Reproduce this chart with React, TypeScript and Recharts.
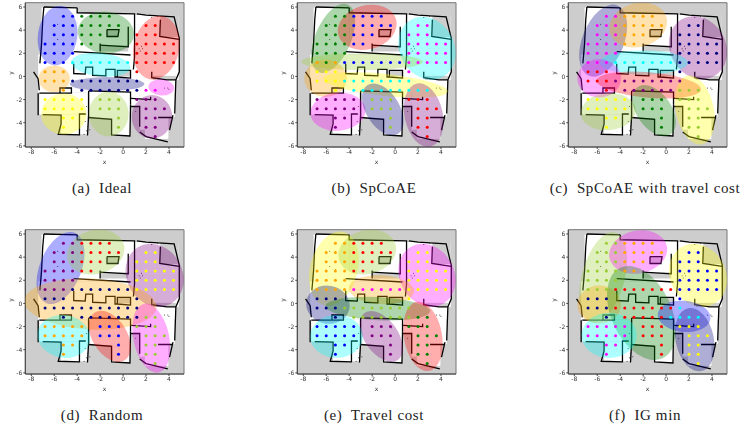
import { ReferenceArea, Scatter, ScatterChart, XAxis, YAxis } from "recharts";

const COLORS: Record<string, string> = {
  b: "#0000ff",
  g: "#008000",
  r: "#ff0000",
  c: "#00ffff",
  o: "#ffa500",
  n: "#000080",
  m: "#ff00ff",
  y: "#ffff00",
  l: "#9acd32",
  p: "#800080",
};

const X_TICKS = [-8, -6, -4, -2, 0, 2, 4];
const Y_TICKS = [-6, -4, -2, 0, 2, 4, 6];
const GRID_X = [-6.8, -6, -5.2, -4.4, -3.6, -2.8, -2, -1.2, -0.4, 0.4, 1.2, 2, 2.8, 3.6, 4.4];
const GRID_Y = [5.2, 4.4, 3.6, 2.8, 2, 1.2, 0.4, -0.4, -1.2, -2, -2.8, -3.6, -4.4, -5.2];

// cluster of each grid point, one string per GRID_Y row
const pointsA = [
  "..bbgggg.......",
  ".bbbggggg..rr..",
  ".bbbggg...rrr..",
  "bbbbgg....rrrrr",
  "bbbb......rrrrr",
  "bbbcccccccrrrrr",
  "ooo.......r....",
  "ooonnnnnnnn....",
  "..o.nnnnnnnmm..",
  "yyyyy.lll.ppp..",
  "yyyyy.lll..ppp.",
  "..yy....l..pp..",
  "..y.....l..pp..",
  "............p..",
];
const pointsB = [
  "..ggbbbb.......",
  ".gggbbbbb..mm..",
  ".gggbbb...mmm..",
  "ggggbb....mmmmm",
  "gggg......mmmmm",
  "ogobbbbbbbmmmmm",
  "yyy.......m....",
  "yyycccccccc....",
  "..y.ccccccccc..",
  "ppppp.lll.rrr..",
  "ppppp.lll..rrr.",
  "..pp....l..rr..",
  "..p.....l..rr..",
  "............r..",
];
const pointsC = [
  "..mmoooo.......",
  ".mmmooooo..nn..",
  ".mmmooo...nnn..",
  "mmmmoo....nnnnn",
  "mmmm......nnnnn",
  "mmmcccccccnnnnn",
  "rrr.......n....",
  "rrrpppppppp....",
  "..r.pppppplll..",
  "yyyyy.ggg.lll..",
  "yyyyy.ggg..lll.",
  "..yy....g..ll..",
  "..y.....g..ll..",
  "............l..",
];
const pointsD = [
  "..pprrrr.......",
  ".ppprrrrr..yy..",
  ".ppprrr...yyy..",
  "pppprr....yyyyy",
  "pppp......yyyyy",
  "pppnnnnnnnyyyyy",
  "nnn.......n....",
  "nnnnnnnnnnn....",
  "..n.nnnnnnnll..",
  "ooooo.bbb.lll..",
  "ooooo.bbb..lll.",
  "..oo....b..ll..",
  "..o.....b..ll..",
  "............l..",
];
const pointsE = [
  "..oorrrr.......",
  ".ooorrrrr..yy..",
  ".ooorrr...yyy..",
  "oooorr....yyyyy",
  "oooo......yyyyy",
  "oooommmmmmyyyyy",
  "nnn.......y....",
  "nnnllllllll....",
  "..n.lllllllgg..",
  "bbbbb.ppp.ggg..",
  "bbbbb.ppp..ggg.",
  "..bb....p..gg..",
  "..b.....p..gg..",
  "............g..",
];
const pointsF = [
  "..lloooo.......",
  ".lllooooo..bb..",
  ".lllooo...bbb..",
  "lllloo....bbbbb",
  "llll......bbbbb",
  "lllrrrrrrrbbbbb",
  "nnn.......b....",
  "nnnrrrrrrrc....",
  "..n.rrrrrcccc..",
  "mmmmm.rrr.yyy..",
  "mmmmm.rrr..yyy.",
  "..mm....r..yy..",
  "..m.....r..yy..",
  "............y..",
];

// colour, centre x, centre y, semi axes, tilt
type Gaussian = [string, number, number, number, number, number];

const ellipsesA: Gaussian[] = [
  ["b", -5.71, 3.52, 2.6, 1.7, -82],
  ["g", -1.5, 3.78, 2.45, 1.8, 5],
  ["r", 2.9, 2.48, 2.8, 1.97, -78],
  ["c", -1.94, 1.01, 2.58, 1.0, 6],
  ["o", -6, -0.2, 1.36, 1.15, 0],
  ["n", -1.39, -0.66, 3.25, 0.6, 0],
  ["m", 3.33, -0.95, 1.12, 0.7, 5],
  ["y", -5.16, -3.25, 1.97, 1.78, 0],
  ["l", -1.25, -3.25, 1.95, 1.72, 90],
  ["p", 2.52, -3.5, 1.9, 1.75, 90],
];
const ellipsesB: Gaussian[] = [
  ["g", -5.39, 3.29, 3.2, 1.55, -67],
  ["r", -2.43, 4.24, 2.6, 1.9, -15],
  ["c", 2.78, 2.43, 2.85, 2.35, 60],
  ["l", -2.87, 1.27, 5.27, 0.72, 0],
  ["o", -6.06, -0.17, 1.85, 1.6, 0],
  ["y", -0.84, -0.74, 5.45, 0.95, 6],
  ["m", -4.98, -3.05, 2.4, 1.65, -5],
  ["n", -1.07, -2.85, 2.5, 1.45, 58],
  ["p", 2.49, -3.34, 2.8, 1.65, 78],
];
const ellipsesC: Gaussian[] = [
  ["n", -5.48, 3.09, 3.3, 1.8, -68],
  ["o", -2.43, 4.44, 2.55, 1.9, -15],
  ["p", 2.78, 2.48, 2.85, 2.4, 60],
  ["c", -1.94, 1.2, 3.85, 1.05, 0],
  ["m", -5.83, -0.17, 1.9, 1.65, 0],
  ["r", -1.5, -0.74, 4.55, 1.1, 5],
  ["l", -5.04, -3.05, 2.4, 1.6, -5],
  ["g", -1.04, -2.96, 2.5, 1.5, 55],
  ["y", 2.5, -2.9, 3.05, 1.65, 78],
];
const ellipsesD: Gaussian[] = [
  ["b", -5.45, 3.06, 3.3, 1.8, -68],
  ["l", -2.4, 4.44, 2.55, 1.9, -15],
  ["p", 2.75, 2.43, 2.85, 2.4, 60],
  ["o", -2.84, -0.05, 5.75, 2.2, 3],
  ["c", -5.16, -2.85, 2.3, 1.85, 10],
  ["r", -1.16, -2.85, 2.45, 1.5, 58],
  ["m", 2.46, -3.0, 3.05, 1.55, 78],
];
const ellipsesE: Gaussian[] = [
  ["y", -5.33, 3, 3.3, 2.05, -75],
  ["l", -2.43, 4.44, 2.55, 1.9, -15],
  ["m", 2.78, 2.43, 2.85, 2.35, 60],
  ["o", -1.19, 1.19, 2.85, 1.25, 3],
  ["n", -5.85, -0.11, 1.9, 1.65, 10],
  ["g", -1.5, -0.45, 4.55, 1.0, 3],
  ["c", -5.1, -2.85, 2.3, 1.85, 0],
  ["p", -1.2, -2.85, 2.5, 1.45, 55],
  ["r", 2.43, -2.85, 3.05, 1.65, 80],
];
const ellipsesF: Gaussian[] = [
  ["l", -5.48, 2.25, 4.05, 1.85, -75],
  ["m", -2.43, 4.44, 2.55, 1.85, -12],
  ["y", 2.78, 2.43, 2.85, 2.4, 60],
  ["o", -5.83, -0.11, 1.9, 1.65, 0],
  ["g", -2.15, -0.83, 4.35, 2.6, 65],
  ["c", -4.96, -2.76, 2.4, 1.95, 0],
  ["b", 1.57, -1.12, 2.3, 1.35, 5],
  ["n", 2.5, -3.13, 2.8, 1.65, 78],
];

// floor plan, in map metres
const FLOORS = [
  [-7.1, 1.1, -4, 5.95],
  [-4, 1.9, 1, 5.45],
  [1, -0.3, 4.85, 5.3],
  [-7.4, -1.4, 4.6, 1.9],
  [-7.3, -3.3, -3.1, -1.4],
  [-5.4, -5, -3.1, -3.3],
  [-3, -3.6, 0.65, -1.3],
  [-1, -5.1, 0.6, -3.6],
  [1.45, -3.5, 4.5, -1.3],
  [0.65, -2.6, 1.45, -1.3],
  [1.9, -5.4, 3.95, -3.5],
  [1.45, -4.6, 1.9, -3.5],
];
const GRAY_ROOMS = [
  [-2, 2.15, 0.45, 2.7],
  [-1.4, 3.45, -0.4, 4.05],
  [-0.5, 0, 0.65, 0.5],
  [2.6, -0.3, 4.6, 0.05],
  [3.25, 3.4, 4.85, 5.3],
];
const WALLS = [
  [[-6.9, 6], [-4, 5.93]],
  [[-4, 5.93], [-4, 5.5], [1, 5.4], [1, 1.7], [0.9, 0.6]],
  [[-6.9, 6], [-7, 4.9], [-7.1, 2.85], [-7.25, 1.13]],
  [[-7.8, 0.4], [-7.4, -0.2], [-7.3, -1.2]],
  [[-7.3, -1.45], [-5.5, -1.45], [-5.5, -1], [-4.5, -1], [-4.5, -1.45], [-5.5, -1.45]],
  [[-3, -1.25], [0.65, -1.35], [0.65, -2.45]],
  [[-7.4, -1.45], [-7.4, -3.35]],
  [[-7, -3.3], [-5.4, -3.35], [-5.4, -4.1], [-5.65, -5], [-3.8, -5.05], [-3.8, -3.25], [-3.25, -3.25]],
  [[-3, -1.25], [-3, -3.35], [-3.1, -5.1]],
  [[-3, -3.55], [-1, -3.7], [-1, -5.05], [0.6, -5.15], [0.65, -2.45]],
  [[-4.3, 2.15], [0.65, 1.85]],
  [[-2, 2.85], [-2, 2.15]],
  [[-2, 2.7], [0.45, 2.55], [0.45, 4.3]],
  [[-1.4, 4.05], [-0.35, 4.05], [-0.45, 3.45], [-1.4, 3.45], [-1.4, 4.05]],
  [[-4.3, 1.1], [-4.3, 0.25], [-3.3, 0.2], [-3.25, 0.8], [-2.65, 0.8], [-2.65, 0.1], [-1.5, 0.05], [-1.5, 0.6], [-0.7, 0.6], [-0.7, -0.05], [-0.5, -0.05], [-0.5, 0.52], [0.65, 0.52], [0.65, -0.15], [-0.5, -0.05]],
  [[1.2, 5.4], [2, 5.3], [4.45, 5.15], [4.9, 3.3], [4.9, 0.4], [4.6, -0.3], [4.5, -3.2]],
  [[3.25, 4.9], [3.2, 3.45], [4.9, 3.2]],
  [[2.5, 0.4], [2.5, -0.1], [3.8, -0.3], [4.6, -0.3]],
  [[0.7, -2.6], [1.45, -2.6], [1.45, -4.35]],
  [[1.45, -4.8], [2, -5.2], [3.9, -5.65]],
  [[3.05, -3.55], [4.35, -3.55]],
  [[4.35, -3.35], [4.05, -4.65]],
  [[0.7, -1.9], [2.4, -2], [2.4, -1.75]],
];
const SPECKS = [
  [-5.7, 4.5], [-5.2, 2.9], [-5.7, 3.2], [-3.3, -3.9], [-3.1, -4.3], [-3.2, -4.7], [-3.4, -5], [-2.9, -4.6], [-0.3, -2.1],
  [1.4, 2.4], [1.7, 2.4], [1.5, 2.2], [1.6, 2.6], [3.9, -1], [4, -1.1], [3.6, -1], [2.5, 5.1], [3, 5.2], [-3.2, -2.6], [1.1, -3],
];

const PLOT_WIDTH = 159;
const PLOT_HEIGHT = 144.3;
const X_DOMAIN = [-8.52, 5.31];
const Y_DOMAIN = [-6.1, 6.37];
const PX_X = PLOT_WIDTH / (X_DOMAIN[1] - X_DOMAIN[0]);
const PX_Y = PLOT_HEIGHT / (Y_DOMAIN[1] - Y_DOMAIN[0]);

const AXIS_TICK = { fontSize: 6, fill: "#333", fontFamily: "DejaVu Sans" };
const AXIS_LABEL = { fontSize: 6, fill: "#333", fontFamily: "DejaVu Sans" };

const PANELS = [
  { caption: "(a)  Ideal", left: 0, top: 0, center: 102, captionY: 188, points: pointsA, ellipses: ellipsesA },
  { caption: "(b)  SpCoAE", left: 272, top: 0, center: 374, captionY: 188, points: pointsB, ellipses: ellipsesB },
  { caption: "(c)  SpCoAE with travel cost", left: 543, top: 0, center: 645, captionY: 188, points: pointsC, ellipses: ellipsesC },
  { caption: "(d)  Random", left: 0, top: 227.3, center: 102, captionY: 415, points: pointsD, ellipses: ellipsesD },
  { caption: "(e)  Travel cost", left: 272, top: 227.3, center: 374, captionY: 415, points: pointsE, ellipses: ellipsesE },
  { caption: "(f)  IG min", left: 543, top: 227.3, center: 645, captionY: 415, points: pointsF, ellipses: ellipsesF },
];

function pointsByColor(rows: string[]) {
  const groups: Record<string, { x: number; y: number }[]> = {};
  rows.forEach((row, r) => {
    row.split("").forEach((ch, c) => {
      if (ch === ".") return;
      (groups[ch] = groups[ch] || []).push({ x: GRID_X[c], y: GRID_Y[r] });
    });
  });
  return groups;
}

const Dot = (color: string, r: number) => (props: any) =>
  <circle cx={props.cx} cy={props.cy} r={r} fill={color} />;

const Blob = (g: Gaussian) => (props: any) => (
  <ellipse
    cx={props.cx}
    cy={props.cy}
    rx={g[3] * PX_X}
    ry={g[4] * PX_Y}
    transform={`rotate(${g[5]} ${props.cx} ${props.cy})`}
    fill={COLORS[g[0]]}
    fillOpacity={0.32}
  />
);

const NoDot = () => <g />;

function Panel({ points, ellipses }: { points: string[]; ellipses: Gaussian[] }) {
  const groups = pointsByColor(points);
  return (
    <ScatterChart
      width={190}
      height={170}
      margin={{ top: 2.7, right: 6, bottom: 5, left: 7.3 }}
    >
      <XAxis
        type="number"
        dataKey="x"
        domain={X_DOMAIN}
        ticks={X_TICKS}
        height={18}
        tickSize={2}
        tickMargin={1}
        tick={AXIS_TICK}
        stroke="#444"
        allowDataOverflow
        label={{ value: "x", position: "insideBottom", offset: 1, style: AXIS_LABEL }}
      />
      <YAxis
        type="number"
        dataKey="y"
        domain={Y_DOMAIN}
        ticks={Y_TICKS}
        width={18}
        tickSize={2}
        tickMargin={1}
        tick={AXIS_TICK}
        stroke="#444"
        allowDataOverflow
        label={{ value: "y", angle: -90, position: "insideLeft", offset: 4, style: AXIS_LABEL }}
      />
      <ReferenceArea x1={X_DOMAIN[0]} x2={X_DOMAIN[1]} y1={Y_DOMAIN[0]} y2={Y_DOMAIN[1]} fill="#cdcdcd" fillOpacity={1} stroke="none" />
      {FLOORS.map((f, i) => (
        <ReferenceArea key={`floor${i}`} x1={f[0]} y1={f[1]} x2={f[2]} y2={f[3]} fill="#fff" fillOpacity={1} stroke="none" />
      ))}
      {GRAY_ROOMS.map((f, i) => (
        <ReferenceArea key={`gray${i}`} x1={f[0]} y1={f[1]} x2={f[2]} y2={f[3]} fill="#cdcdcd" fillOpacity={1} stroke="none" />
      ))}
      {WALLS.map((w, i) => (
        <Scatter
          key={`wall${i}`}
          data={w.map((p) => ({ x: p[0], y: p[1] }))}
          line={{ stroke: "#000", strokeWidth: 1.3 }}
          lineType="joint"
          shape={NoDot}
          isAnimationActive={false}
        />
      ))}
      <Scatter
        data={SPECKS.map((p) => ({ x: p[0], y: p[1] }))}
        shape={Dot("#222", 0.5)}
        isAnimationActive={false}
      />
      {ellipses.map((g, i) => (
        <Scatter
          key={`blob${i}`}
          data={[{ x: g[1], y: g[2] }]}
          shape={Blob(g)}
          isAnimationActive={false}
        />
      ))}
      {Object.keys(groups).map((k) => (
        <Scatter
          key={k}
          data={groups[k]}
          shape={Dot(COLORS[k], 1.5)}
          isAnimationActive={false}
        />
      ))}
      <ReferenceArea isFront x1={X_DOMAIN[0]} x2={X_DOMAIN[1]} y1={Y_DOMAIN[0]} y2={Y_DOMAIN[1]} fill="none" stroke="#777" strokeWidth={1} />
    </ScatterChart>
  );
}

export default function App() {
  return (
    <div style={{ position: "absolute", left: 0, top: 0, width: 748, height: 424, background: "#fff", overflow: "hidden" }}>
      {PANELS.map((p) => (
        <div key={p.caption}>
          <div style={{ position: "absolute", left: p.left, top: p.top, filter: "blur(0.35px)" }}>
            <Panel points={p.points} ellipses={p.ellipses} />
          </div>
          <div
            style={{
              position: "absolute",
              left: p.center - 120,
              width: 240,
              top: p.captionY - 9,
              textAlign: "center",
              fontFamily: "Liberation Serif",
              fontSize: 15,
              letterSpacing: 0.6,
              whiteSpace: "pre",
              color: "#222",
              lineHeight: "18px",
            }}
          >
            {p.caption}
          </div>
        </div>
      ))}
    </div>
  );
}
